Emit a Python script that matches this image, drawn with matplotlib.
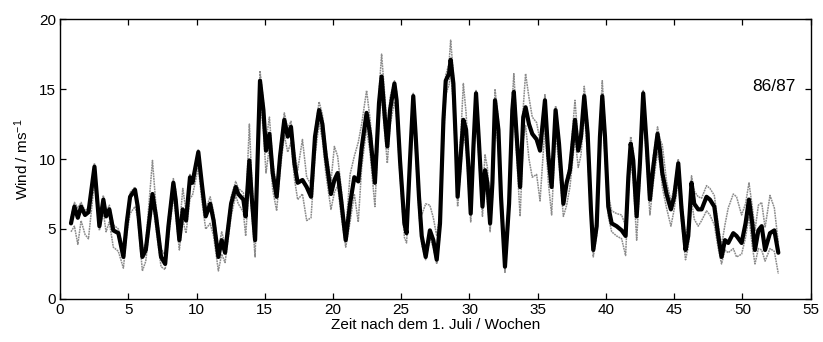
import matplotlib
matplotlib.use('Agg')
import matplotlib.pyplot as plt

plt.rcParams['font.family'] = ['Liberation Sans', 'DejaVu Sans']
plt.rcParams['mathtext.default'] = 'regular'

###############################
# Werte (Wochen nach dem 1. Juli, Wind in m/s)
wochen = [0.8, 1.05, 1.3, 1.54, 1.83, 2.08, 2.52, 2.88, 3.17, 3.37, 3.61, 3.9, 4.27, 4.64,
          4.88, 5.13, 5.49, 5.69, 6.03, 6.28, 6.77, 7.03, 7.4, 7.7, 7.94, 8.3, 8.47, 8.74,
          8.99, 9.23, 9.52, 9.7, 10.13, 10.38, 10.67, 11.0, 11.25, 11.6, 11.84, 12.09, 12.53,
          12.87, 13.06, 13.43, 13.6, 13.87, 14.04, 14.29, 14.65, 14.9, 15.09, 15.34, 15.58,
          15.87, 16.12, 16.43, 16.68, 16.92, 17.17, 17.41, 17.76, 18.07, 18.39, 18.68, 18.98,
          19.22, 19.47, 19.85, 20.1, 20.34, 20.59, 20.93, 21.25, 21.56, 21.85, 22.1, 22.46,
          22.71, 23.07, 23.37, 23.56, 23.81, 23.98, 24.18, 24.5, 24.66, 24.91, 25.23, 25.39,
          25.64, 25.88, 26.05, 26.3, 26.5, 26.79, 27.1, 27.35, 27.6, 27.84, 28.09, 28.26,
          28.5, 28.62, 28.82, 29.01, 29.13, 29.38, 29.55, 29.75, 29.92, 30.09, 30.29, 30.48,
          30.7, 30.95, 31.14, 31.31, 31.51, 31.68, 31.87, 32.12, 32.31, 32.6, 32.9, 33.14,
          33.25, 33.46, 33.71, 33.94, 34.11, 34.36, 34.6, 34.92, 35.17, 35.53, 35.78, 36.02,
          36.31, 36.56, 36.88, 37.12, 37.36, 37.73, 37.97, 38.17, 38.41, 38.66, 38.9, 39.07,
          39.32, 39.56, 39.73, 39.93, 40.17, 40.42, 40.78, 41.15, 41.44, 41.64, 41.81, 42.0,
          42.25, 42.49, 42.73, 42.98, 43.22, 43.47, 43.78, 43.96, 44.13, 44.44, 44.76, 45.0,
          45.3, 45.54, 45.83, 46.03, 46.27, 46.47, 46.76, 47.01, 47.37, 47.62, 47.94, 48.23,
          48.47, 48.72, 48.96, 49.33, 49.57, 49.94, 50.23, 50.48, 50.72, 50.92, 51.17, 51.41,
          51.66, 52.02, 52.34, 52.63]

wind = [5.4, 6.6, 5.8, 6.6, 6.0, 6.2, 9.45, 5.2, 7.1, 5.9, 6.4, 4.9, 4.7, 3.0,
        5.4, 7.3, 7.8, 6.6, 3.0, 3.5, 7.5, 5.9, 3.0, 2.5, 5.2, 8.3, 7.1, 4.2,
        6.4, 5.6, 8.7, 8.3, 10.5, 8.3, 5.9, 6.8, 5.6, 3.0, 4.2, 3.3, 6.8,
        8.0, 7.5, 7.1, 5.9, 9.9, 7.3, 4.2, 15.6, 13.5, 10.6, 11.8, 9.0,
        7.3, 10.2, 12.8, 11.6, 12.3, 9.7, 8.3, 8.5, 8.0, 7.3, 11.6, 13.5,
        12.5, 10.2, 7.5, 8.5, 9.0, 7.1, 4.2, 6.8, 8.7, 8.4, 10.8, 13.3,
        11.8, 8.3, 14.0, 15.9, 12.8, 10.9, 13.5, 15.4, 14.2, 9.9, 5.4, 4.7,
        9.9, 14.5, 11.8, 7.3, 4.5, 3.0, 4.9, 4.2, 2.8, 5.4, 12.8, 15.6,
        16.1, 17.1, 15.4, 10.9, 7.3, 10.6, 12.8, 12.1, 9.45, 6.1, 10.9, 14.7,
        11.1, 6.6, 9.2, 8.3, 5.4, 8.3, 14.2, 12.1, 7.3, 2.3, 6.8, 13.5,
        14.8, 11.6, 8.0, 13.0, 13.7, 12.5, 11.8, 11.4, 10.6, 14.2, 10.2, 8.0,
        13.5, 11.1, 6.8, 8.3, 9.2, 12.8, 10.6, 11.6, 14.5, 11.8, 6.4, 3.5,
        5.2, 11.6, 14.5, 11.6, 6.6, 5.4, 5.2, 4.9, 4.5, 8.7, 11.1, 9.9,
        5.9, 9.7, 14.7, 11.1, 7.1, 9.45, 11.8, 10.6, 9.0, 7.5, 6.4, 7.3,
        9.7, 6.4, 3.5, 4.5, 8.3, 6.8, 6.4, 6.4, 7.3, 7.1, 6.6, 4.5,
        3.0, 4.2, 4.0, 4.7, 4.5, 4.0, 5.4, 7.1, 5.4, 3.5, 4.9, 5.2,
        3.5, 4.7, 4.9, 3.3]

# graue Kurven (Vergleichsreihen), obere und untere
grau_oben = [5.8, 6.9, 6.5, 6.9, 6.3, 6.5, 9.7, 5.6, 7.4, 6.2, 6.7, 5.3, 5.0, 3.5,
             5.9, 7.6, 8.0, 7.0, 3.4, 4.0, 9.9, 6.6, 3.6, 3.1, 5.8, 8.6, 7.8, 4.9,
             7.9, 6.3, 8.9, 8.5, 10.7, 8.6, 6.4, 7.3, 6.2, 3.5, 4.8, 3.9, 7.3,
             8.4, 7.9, 7.6, 6.3, 12.5, 8.6, 5.0, 16.3, 14.1, 11.3, 13.0, 9.8,
             7.9, 10.8, 13.3, 12.2, 12.7, 10.6, 9.2, 11.4, 8.7, 8.2, 12.0, 14.1,
             13.2, 10.9, 8.4, 10.9, 10.2, 8.0, 4.8, 8.9, 10.2, 11.2, 12.5, 14.9,
             12.9, 8.9, 14.8, 17.5, 14.3, 12.0, 14.4, 15.6, 14.8, 10.6, 6.0, 5.2,
             10.5, 14.7, 12.4, 7.9, 6.0, 6.8, 6.7, 5.8, 4.5, 6.2, 13.6, 16.0,
             16.8, 18.5, 16.1, 11.7, 8.3, 12.0, 15.4, 13.3, 10.4, 6.8, 11.6, 14.9,
             11.8, 7.3, 10.3, 9.4, 6.4, 9.0, 15.0, 12.8, 8.1, 3.0, 7.5, 14.3,
             16.1, 12.5, 8.8, 13.7, 16.1, 14.4, 13.0, 12.6, 11.3, 14.6, 11.1, 8.8,
             13.8, 11.7, 7.5, 8.6, 9.8, 14.2, 11.2, 12.1, 15.2, 12.6, 7.1, 4.1,
             5.9, 12.3, 15.6, 12.4, 7.4, 6.3, 6.1, 6.0, 5.2, 9.4, 11.6, 10.6,
             6.6, 10.3, 14.9, 11.7, 7.8, 10.2, 12.3, 11.4, 11.0, 8.4, 7.0, 7.9,
             10.0, 7.3, 4.3, 5.4, 8.8, 7.7, 7.3, 7.2, 8.1, 7.9, 7.4, 5.3,
             3.8, 5.3, 6.5, 7.5, 7.3, 6.0, 6.8, 8.3, 6.6, 4.9, 6.7, 6.9,
             5.1, 7.4, 6.5, 4.0]

grau_unten = [4.8, 5.2, 3.9, 5.6, 4.6, 4.3, 8.4, 4.9, 6.2, 4.8, 5.5, 3.7, 3.4, 2.2,
              4.6, 6.1, 6.6, 5.8, 2.0, 2.7, 7.0, 5.0, 2.3, 2.1, 4.3, 7.3, 6.0, 3.5,
              5.6, 4.7, 7.2, 7.4, 9.4, 7.1, 5.0, 5.4, 4.5, 2.0, 3.2, 2.6, 5.9,
              7.4, 6.8, 6.2, 4.5, 8.6, 6.2, 3.0, 14.3, 12.0, 9.0, 10.9, 7.8,
              6.3, 9.1, 11.7, 10.5, 11.2, 8.6, 7.1, 7.5, 5.6, 5.8, 10.2, 12.6,
              11.4, 9.0, 6.4, 7.6, 8.1, 6.0, 3.7, 5.5, 7.5, 5.5, 9.4, 12.2,
              10.5, 6.6, 12.8, 14.5, 11.6, 9.7, 12.4, 14.1, 13.0, 8.8, 4.4, 4.0,
              8.7, 13.4, 10.6, 6.1, 3.9, 2.8, 4.3, 3.7, 2.5, 4.6, 11.2, 14.6,
              15.3, 16.2, 14.0, 9.6, 6.6, 9.5, 11.8, 10.8, 8.2, 5.5, 9.7, 13.4,
              9.9, 5.9, 8.3, 7.0, 4.8, 7.2, 13.1, 10.7, 6.2, 1.9, 5.9, 12.0,
              13.7, 10.2, 5.9, 11.4, 12.4, 10.0, 8.7, 8.9, 7.0, 12.3, 8.3, 6.0,
              11.9, 9.6, 5.9, 6.7, 8.0, 11.5, 9.4, 10.3, 13.3, 10.3, 5.6, 3.0,
              4.5, 10.4, 13.3, 10.2, 5.9, 4.8, 4.5, 4.3, 3.1, 7.4, 9.8, 8.6,
              4.2, 8.4, 13.5, 9.8, 6.0, 8.3, 10.5, 9.6, 8.0, 6.5, 5.2, 6.4,
              8.5, 5.5, 2.8, 3.7, 7.0, 5.7, 5.2, 5.6, 6.3, 6.0, 5.3, 3.6,
              2.5, 3.5, 3.3, 3.6, 3.0, 3.2, 4.4, 5.9, 3.8, 2.5, 3.6, 3.5,
              2.7, 3.6, 3.4, 1.8]

xticks = list(range(0, 60, 5))
yticks = [0, 5, 10, 15, 20]

###############################
# Figur
fig = plt.figure(figsize=(8.23, 3.42), dpi=100)
ax = fig.add_axes([0.073, 0.126, 0.912, 0.818])

ax.plot(wochen, grau_oben, color='#8c8c8c', lw=1.1, ls=(0, (1.2, 0.5)))
ax.plot(wochen, grau_unten, color='#8c8c8c', lw=1.1, ls=(0, (1.2, 0.5)))
ax.plot(wochen, wind, color='black', lw=3.0, solid_joinstyle='round',
        solid_capstyle='round')

ax.set_xlim(0, 55)
ax.set_ylim(0, 20)
ax.set_xticks(xticks)
ax.set_yticks(yticks)
ax.tick_params(direction='in', top=True, right=True, length=4, width=0.9,
               labelsize=11, pad=3)
for s in ax.spines.values():
    s.set_linewidth(1.0)

ax.set_xlabel('Zeit nach dem 1. Juli / Wochen', fontsize=11, labelpad=1)
ax.set_ylabel('Wind / ms$^{-1}$', fontsize=11, labelpad=6)
ax.text(52.3, 15.2, '86/87', fontsize=12.5, ha='center', va='center')

fig.savefig('out.png', dpi=100)
